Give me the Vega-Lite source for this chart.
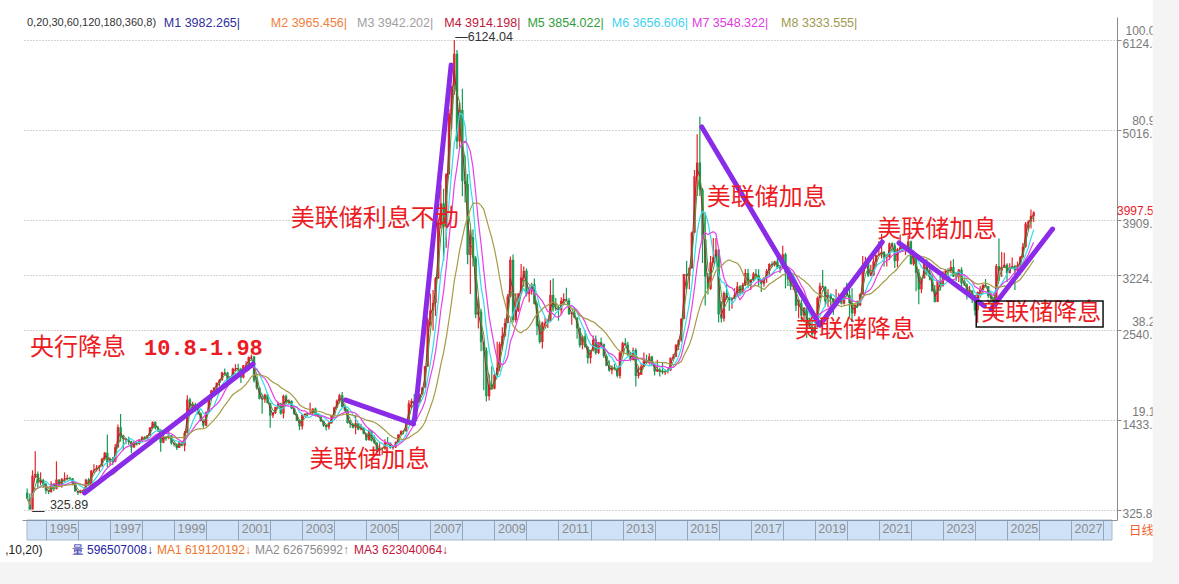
{
"$schema":"https://vega.github.io/schema/vega-lite/v6.json",
"width":1095,"height":503,
"autosize":{"type":"none"},
"padding":{"left":22,"top":17,"right":62,"bottom":64},
"background":"white",
"config":{"view":{"stroke":null},"text":{"font":"Liberation Sans"}},
"datasets":{
"k":[
{"d":"1994-06","o":540,"h":590,"l":463,"c":467},{"d":"1994-07","o":467,"h":530,"l":326,"c":333},{"d":"1994-08","o":333,"h":815,"l":330,"c":750},{"d":"1994-09","o":750,"h":1052,"l":720,"c":772},{"d":"1994-10","o":772,"h":800,"l":600,"c":662},{"d":"1994-11","o":662,"h":790,"l":630,"c":693},{"d":"1994-12","o":693,"h":710,"l":600,"c":647},
{"d":"1995-01","o":647,"h":660,"l":525,"c":563},{"d":"1995-02","o":563,"h":570,"l":524,"c":550},{"d":"1995-03","o":550,"h":680,"l":540,"c":646},{"d":"1995-04","o":646,"h":650,"l":560,"c":587},{"d":"1995-05","o":587,"h":926,"l":580,"c":701},{"d":"1995-06","o":701,"h":705,"l":610,"c":630},{"d":"1995-07","o":630,"h":720,"l":600,"c":706},{"d":"1995-08","o":706,"h":790,"l":680,"c":712},{"d":"1995-09","o":712,"h":760,"l":690,"c":717},{"d":"1995-10","o":717,"h":735,"l":700,"c":716},{"d":"1995-11","o":716,"h":720,"l":630,"c":649},{"d":"1995-12","o":649,"h":660,"l":555,"c":555},
{"d":"1996-01","o":555,"h":560,"l":512,"c":537},{"d":"1996-02","o":537,"h":575,"l":530,"c":565},{"d":"1996-03","o":565,"h":580,"l":545,"c":565},{"d":"1996-04","o":565,"h":710,"l":560,"c":700},{"d":"1996-05","o":700,"h":720,"l":630,"c":645},{"d":"1996-06","o":645,"h":820,"l":640,"c":811},{"d":"1996-07","o":811,"h":890,"l":780,"c":822},{"d":"1996-08","o":822,"h":880,"l":800,"c":848},{"d":"1996-09","o":848,"h":880,"l":800,"c":868},{"d":"1996-10","o":868,"h":970,"l":860,"c":957},{"d":"1996-11","o":957,"h":1040,"l":940,"c":1032},{"d":"1996-12","o":1032,"h":1258,"l":855,"c":917},
{"d":"1997-01","o":917,"h":970,"l":870,"c":956},{"d":"1997-02","o":956,"h":980,"l":880,"c":920},{"d":"1997-03","o":920,"h":1140,"l":915,"c":1100},{"d":"1997-04","o":1100,"h":1380,"l":1095,"c":1347},{"d":"1997-05","o":1347,"h":1510,"l":1170,"c":1212},{"d":"1997-06","o":1212,"h":1250,"l":1060,"c":1199},{"d":"1997-07","o":1199,"h":1210,"l":1140,"c":1201},{"d":"1997-08","o":1201,"h":1230,"l":1130,"c":1168},{"d":"1997-09","o":1168,"h":1180,"l":1025,"c":1098},{"d":"1997-10","o":1098,"h":1180,"l":1090,"c":1160},{"d":"1997-11","o":1160,"h":1170,"l":1120,"c":1142},{"d":"1997-12","o":1142,"h":1200,"l":1130,"c":1194},
{"d":"1998-01","o":1194,"h":1240,"l":1170,"c":1222},{"d":"1998-02","o":1222,"h":1240,"l":1190,"c":1207},{"d":"1998-03","o":1207,"h":1250,"l":1200,"c":1243},{"d":"1998-04","o":1243,"h":1350,"l":1240,"c":1342},{"d":"1998-05","o":1342,"h":1420,"l":1330,"c":1411},{"d":"1998-06","o":1411,"h":1420,"l":1320,"c":1339},{"d":"1998-07","o":1339,"h":1360,"l":1290,"c":1318},{"d":"1998-08","o":1318,"h":1320,"l":1043,"c":1156},{"d":"1998-09","o":1156,"h":1260,"l":1150,"c":1227},{"d":"1998-10","o":1227,"h":1240,"l":1180,"c":1217},{"d":"1998-11","o":1217,"h":1300,"l":1200,"c":1248},{"d":"1998-12","o":1248,"h":1250,"l":1130,"c":1147},
{"d":"1999-01","o":1147,"h":1160,"l":1110,"c":1135},{"d":"1999-02","o":1135,"h":1150,"l":1065,"c":1091},{"d":"1999-03","o":1091,"h":1170,"l":1090,"c":1158},{"d":"1999-04","o":1158,"h":1180,"l":1110,"c":1120},{"d":"1999-05","o":1120,"h":1300,"l":1050,"c":1279},{"d":"1999-06","o":1279,"h":1740,"l":1270,"c":1689},{"d":"1999-07","o":1689,"h":1710,"l":1560,"c":1601},{"d":"1999-08","o":1601,"h":1660,"l":1560,"c":1627},{"d":"1999-09","o":1627,"h":1650,"l":1540,"c":1593},{"d":"1999-10","o":1593,"h":1600,"l":1500,"c":1514},{"d":"1999-11","o":1514,"h":1530,"l":1420,"c":1423},{"d":"1999-12","o":1423,"h":1430,"l":1341,"c":1367},
{"d":"2000-01","o":1367,"h":1540,"l":1360,"c":1534},{"d":"2000-02","o":1534,"h":1730,"l":1530,"c":1714},{"d":"2000-03","o":1714,"h":1810,"l":1680,"c":1800},{"d":"2000-04","o":1800,"h":1840,"l":1760,"c":1836},{"d":"2000-05","o":1836,"h":1900,"l":1800,"c":1895},{"d":"2000-06","o":1895,"h":1940,"l":1850,"c":1928},{"d":"2000-07","o":1928,"h":2030,"l":1920,"c":2023},{"d":"2000-08","o":2023,"h":2070,"l":1990,"c":2022},{"d":"2000-09","o":2022,"h":2030,"l":1890,"c":1910},{"d":"2000-10","o":1910,"h":1970,"l":1900,"c":1961},{"d":"2000-11","o":1961,"h":2080,"l":1960,"c":2070},{"d":"2000-12","o":2070,"h":2125,"l":2040,"c":2073},
{"d":"2001-01","o":2073,"h":2130,"l":2020,"c":2065},{"d":"2001-02","o":2065,"h":2080,"l":1894,"c":1960},{"d":"2001-03","o":1960,"h":2115,"l":1950,"c":2112},{"d":"2001-04","o":2112,"h":2160,"l":2080,"c":2119},{"d":"2001-05","o":2119,"h":2220,"l":2110,"c":2214},{"d":"2001-06","o":2214,"h":2245,"l":2180,"c":2218},{"d":"2001-07","o":2218,"h":2230,"l":1900,"c":1920},{"d":"2001-08","o":1920,"h":1970,"l":1810,"c":1834},{"d":"2001-09","o":1834,"h":1840,"l":1690,"c":1698},{"d":"2001-10","o":1698,"h":1760,"l":1514,"c":1689},{"d":"2001-11","o":1689,"h":1760,"l":1650,"c":1747},{"d":"2001-12","o":1747,"h":1770,"l":1640,"c":1646},
{"d":"2002-01","o":1646,"h":1650,"l":1339,"c":1491},{"d":"2002-02","o":1491,"h":1530,"l":1460,"c":1525},{"d":"2002-03","o":1525,"h":1600,"l":1510,"c":1594},{"d":"2002-04","o":1594,"h":1660,"l":1580,"c":1640},{"d":"2002-05","o":1640,"h":1650,"l":1500,"c":1515},{"d":"2002-06","o":1515,"h":1748,"l":1455,"c":1733},{"d":"2002-07","o":1733,"h":1750,"l":1640,"c":1653},{"d":"2002-08","o":1653,"h":1690,"l":1620,"c":1672},{"d":"2002-09","o":1672,"h":1680,"l":1570,"c":1581},{"d":"2002-10","o":1581,"h":1590,"l":1500,"c":1507},{"d":"2002-11","o":1507,"h":1510,"l":1420,"c":1430},{"d":"2002-12","o":1430,"h":1440,"l":1311,"c":1358},
{"d":"2003-01","o":1358,"h":1510,"l":1320,"c":1499},{"d":"2003-02","o":1499,"h":1520,"l":1480,"c":1513},{"d":"2003-03","o":1513,"h":1530,"l":1480,"c":1510},{"d":"2003-04","o":1510,"h":1650,"l":1500,"c":1521},{"d":"2003-05","o":1521,"h":1580,"l":1500,"c":1576},{"d":"2003-06","o":1576,"h":1590,"l":1480,"c":1487},{"d":"2003-07","o":1487,"h":1520,"l":1470,"c":1476},{"d":"2003-08","o":1476,"h":1490,"l":1410,"c":1421},{"d":"2003-09","o":1421,"h":1430,"l":1350,"c":1367},{"d":"2003-10","o":1367,"h":1380,"l":1307,"c":1348},{"d":"2003-11","o":1348,"h":1410,"l":1320,"c":1398},{"d":"2003-12","o":1398,"h":1500,"l":1390,"c":1497},
{"d":"2004-01","o":1497,"h":1600,"l":1490,"c":1590},{"d":"2004-02","o":1590,"h":1690,"l":1580,"c":1675},{"d":"2004-03","o":1675,"h":1760,"l":1640,"c":1742},{"d":"2004-04","o":1742,"h":1783,"l":1590,"c":1595},{"d":"2004-05","o":1595,"h":1620,"l":1540,"c":1555},{"d":"2004-06","o":1555,"h":1570,"l":1390,"c":1399},{"d":"2004-07","o":1399,"h":1430,"l":1340,"c":1386},{"d":"2004-08","o":1386,"h":1400,"l":1330,"c":1342},{"d":"2004-09","o":1342,"h":1500,"l":1260,"c":1396},{"d":"2004-10","o":1396,"h":1400,"l":1310,"c":1320},{"d":"2004-11","o":1320,"h":1390,"l":1310,"c":1341},{"d":"2004-12","o":1341,"h":1350,"l":1259,"c":1267},
{"d":"2005-01","o":1267,"h":1270,"l":1180,"c":1191},{"d":"2005-02","o":1191,"h":1330,"l":1180,"c":1306},{"d":"2005-03","o":1306,"h":1310,"l":1170,"c":1181},{"d":"2005-04","o":1181,"h":1250,"l":1140,"c":1159},{"d":"2005-05","o":1159,"h":1160,"l":1040,"c":1060},{"d":"2005-06","o":1060,"h":1150,"l":998,"c":1080},{"d":"2005-07","o":1080,"h":1100,"l":1004,"c":1083},{"d":"2005-08","o":1083,"h":1200,"l":1070,"c":1162},{"d":"2005-09","o":1162,"h":1225,"l":1150,"c":1155},{"d":"2005-10","o":1155,"h":1160,"l":1080,"c":1092},{"d":"2005-11","o":1092,"h":1110,"l":1070,"c":1099},{"d":"2005-12","o":1099,"h":1170,"l":1090,"c":1161},
{"d":"2006-01","o":1161,"h":1260,"l":1160,"c":1258},{"d":"2006-02","o":1258,"h":1310,"l":1250,"c":1299},{"d":"2006-03","o":1299,"h":1310,"l":1260,"c":1298},{"d":"2006-04","o":1298,"h":1445,"l":1290,"c":1440},{"d":"2006-05","o":1440,"h":1680,"l":1440,"c":1641},{"d":"2006-06","o":1641,"h":1700,"l":1580,"c":1672},{"d":"2006-07","o":1672,"h":1757,"l":1600,"c":1612},{"d":"2006-08","o":1612,"h":1660,"l":1540,"c":1658},{"d":"2006-09","o":1658,"h":1760,"l":1650,"c":1752},{"d":"2006-10","o":1752,"h":1840,"l":1750,"c":1837},{"d":"2006-11","o":1837,"h":2100,"l":1830,"c":2099},{"d":"2006-12","o":2099,"h":2700,"l":2090,"c":2675},
{"d":"2007-01","o":2675,"h":2994,"l":2600,"c":2786},{"d":"2007-02","o":2786,"h":3040,"l":2540,"c":2881},{"d":"2007-03","o":2881,"h":3200,"l":2720,"c":3183},{"d":"2007-04","o":3183,"h":3850,"l":3180,"c":3841},{"d":"2007-05","o":3841,"h":4335,"l":3800,"c":4109},{"d":"2007-06","o":4109,"h":4290,"l":3400,"c":3820},{"d":"2007-07","o":3820,"h":4480,"l":3560,"c":4471},{"d":"2007-08","o":4471,"h":5270,"l":4460,"c":5218},{"d":"2007-09","o":5218,"h":5560,"l":5030,"c":5552},{"d":"2007-10","o":5552,"h":6124,"l":5450,"c":5954},{"d":"2007-11","o":5954,"h":6000,"l":4780,"c":4871},{"d":"2007-12","o":4871,"h":5350,"l":4800,"c":5262},
{"d":"2008-01","o":5262,"h":5522,"l":4195,"c":4383},{"d":"2008-02","o":4383,"h":4695,"l":4120,"c":4348},{"d":"2008-03","o":4348,"h":4470,"l":3357,"c":3473},{"d":"2008-04","o":3473,"h":3786,"l":2990,"c":3693},{"d":"2008-05","o":3693,"h":3786,"l":3330,"c":3433},{"d":"2008-06","o":3433,"h":3460,"l":2690,"c":2736},{"d":"2008-07","o":2736,"h":2950,"l":2566,"c":2775},{"d":"2008-08","o":2775,"h":2810,"l":2284,"c":2397},{"d":"2008-09","o":2397,"h":2400,"l":1802,"c":2293},{"d":"2008-10","o":2293,"h":2330,"l":1664,"c":1729},{"d":"2008-11","o":1729,"h":2000,"l":1678,"c":1871},{"d":"2008-12","o":1871,"h":2100,"l":1814,"c":1821},
{"d":"2009-01","o":1821,"h":2010,"l":1815,"c":1991},{"d":"2009-02","o":1991,"h":2402,"l":1990,"c":2082},{"d":"2009-03","o":2082,"h":2400,"l":2037,"c":2373},{"d":"2009-04","o":2373,"h":2580,"l":2300,"c":2477},{"d":"2009-05","o":2477,"h":2690,"l":2460,"c":2633},{"d":"2009-06","o":2633,"h":2990,"l":2630,"c":2959},{"d":"2009-07","o":2959,"h":3454,"l":2950,"c":3412},{"d":"2009-08","o":3412,"h":3478,"l":2640,"c":2668},{"d":"2009-09","o":2668,"h":3000,"l":2639,"c":2779},{"d":"2009-10","o":2779,"h":3000,"l":2770,"c":2996},{"d":"2009-11","o":2996,"h":3361,"l":2990,"c":3195},{"d":"2009-12","o":3195,"h":3330,"l":3080,"c":3277},
{"d":"2010-01","o":3277,"h":3306,"l":2960,"c":2989},{"d":"2010-02","o":2989,"h":3080,"l":2890,"c":3051},{"d":"2010-03","o":3051,"h":3130,"l":2980,"c":3110},{"d":"2010-04","o":3110,"h":3181,"l":2860,"c":2870},{"d":"2010-05","o":2870,"h":2890,"l":2481,"c":2592},{"d":"2010-06","o":2592,"h":2660,"l":2380,"c":2398},{"d":"2010-07","o":2398,"h":2650,"l":2319,"c":2638},{"d":"2010-08","o":2638,"h":2700,"l":2570,"c":2638},{"d":"2010-09","o":2638,"h":2680,"l":2570,"c":2656},{"d":"2010-10","o":2656,"h":3160,"l":2650,"c":2979},{"d":"2010-11","o":2979,"h":3186,"l":2770,"c":2820},{"d":"2010-12","o":2820,"h":2940,"l":2780,"c":2808},
{"d":"2011-01","o":2808,"h":2850,"l":2661,"c":2791},{"d":"2011-02","o":2791,"h":2950,"l":2730,"c":2905},{"d":"2011-03","o":2905,"h":3000,"l":2850,"c":2928},{"d":"2011-04","o":2928,"h":3067,"l":2900,"c":2912},{"d":"2011-05","o":2912,"h":2940,"l":2730,"c":2743},{"d":"2011-06","o":2743,"h":2770,"l":2610,"c":2762},{"d":"2011-07","o":2762,"h":2830,"l":2690,"c":2701},{"d":"2011-08","o":2701,"h":2700,"l":2437,"c":2567},{"d":"2011-09","o":2567,"h":2570,"l":2332,"c":2359},{"d":"2011-10","o":2359,"h":2480,"l":2307,"c":2468},{"d":"2011-11","o":2468,"h":2536,"l":2330,"c":2333},{"d":"2011-12","o":2333,"h":2350,"l":2134,"c":2199},
{"d":"2012-01","o":2199,"h":2300,"l":2132,"c":2292},{"d":"2012-02","o":2292,"h":2478,"l":2280,"c":2428},{"d":"2012-03","o":2428,"h":2478,"l":2240,"c":2263},{"d":"2012-04","o":2263,"h":2400,"l":2250,"c":2397},{"d":"2012-05","o":2397,"h":2454,"l":2330,"c":2373},{"d":"2012-06","o":2373,"h":2380,"l":2200,"c":2225},{"d":"2012-07","o":2225,"h":2240,"l":2100,"c":2103},{"d":"2012-08","o":2103,"h":2170,"l":2030,"c":2047},{"d":"2012-09","o":2047,"h":2110,"l":1999,"c":2086},{"d":"2012-10","o":2086,"h":2130,"l":2050,"c":2069},{"d":"2012-11","o":2069,"h":2080,"l":1959,"c":1980},{"d":"2012-12","o":1980,"h":2280,"l":1949,"c":2269},
{"d":"2013-01","o":2269,"h":2400,"l":2260,"c":2385},{"d":"2013-02","o":2385,"h":2444,"l":2360,"c":2365},{"d":"2013-03","o":2365,"h":2400,"l":2230,"c":2237},{"d":"2013-04","o":2237,"h":2270,"l":2160,"c":2178},{"d":"2013-05","o":2178,"h":2330,"l":2170,"c":2301},{"d":"2013-06","o":2301,"h":2320,"l":1849,"c":1979},{"d":"2013-07","o":1979,"h":2100,"l":1950,"c":1994},{"d":"2013-08","o":1994,"h":2140,"l":1990,"c":2098},{"d":"2013-09","o":2098,"h":2270,"l":2090,"c":2175},{"d":"2013-10","o":2175,"h":2240,"l":2130,"c":2141},{"d":"2013-11","o":2141,"h":2260,"l":2120,"c":2220},{"d":"2013-12","o":2220,"h":2230,"l":2100,"c":2116},
{"d":"2014-01","o":2116,"h":2120,"l":1985,"c":2033},{"d":"2014-02","o":2033,"h":2180,"l":2030,"c":2056},{"d":"2014-03","o":2056,"h":2080,"l":1974,"c":2033},{"d":"2014-04","o":2033,"h":2150,"l":2000,"c":2026},{"d":"2014-05","o":2026,"h":2060,"l":1990,"c":2039},{"d":"2014-06","o":2039,"h":2070,"l":2010,"c":2048},{"d":"2014-07","o":2048,"h":2210,"l":2040,"c":2202},{"d":"2014-08","o":2202,"h":2250,"l":2190,"c":2217},{"d":"2014-09","o":2217,"h":2370,"l":2210,"c":2364},{"d":"2014-10","o":2364,"h":2430,"l":2300,"c":2420},{"d":"2014-11","o":2420,"h":2690,"l":2400,"c":2683},{"d":"2014-12","o":2683,"h":3240,"l":2680,"c":3235},
{"d":"2015-01","o":3235,"h":3400,"l":3050,"c":3210},{"d":"2015-02","o":3210,"h":3320,"l":3050,"c":3310},{"d":"2015-03","o":3310,"h":3760,"l":3300,"c":3748},{"d":"2015-04","o":3748,"h":4520,"l":3740,"c":4442},{"d":"2015-05","o":4442,"h":4960,"l":4200,"c":4612},{"d":"2015-06","o":4612,"h":5178,"l":4200,"c":4277},{"d":"2015-07","o":4277,"h":4300,"l":3373,"c":3664},{"d":"2015-08","o":3664,"h":4000,"l":2850,"c":3206},{"d":"2015-09","o":3206,"h":3250,"l":2983,"c":3053},{"d":"2015-10","o":3053,"h":3460,"l":3040,"c":3383},{"d":"2015-11","o":3383,"h":3680,"l":3370,"c":3445},{"d":"2015-12","o":3445,"h":3680,"l":3400,"c":3539},
{"d":"2016-01","o":3539,"h":3540,"l":2638,"c":2738},{"d":"2016-02","o":2738,"h":2900,"l":2638,"c":2688},{"d":"2016-03","o":2688,"h":3020,"l":2650,"c":3004},{"d":"2016-04","o":3004,"h":3100,"l":2920,"c":2938},{"d":"2016-05","o":2938,"h":2950,"l":2780,"c":2917},{"d":"2016-06","o":2917,"h":2950,"l":2810,"c":2930},{"d":"2016-07","o":2930,"h":3060,"l":2930,"c":2979},{"d":"2016-08","o":2979,"h":3140,"l":2960,"c":3085},{"d":"2016-09","o":3085,"h":3100,"l":2970,"c":3005},{"d":"2016-10","o":3005,"h":3130,"l":3000,"c":3100},{"d":"2016-11","o":3100,"h":3300,"l":3090,"c":3250},{"d":"2016-12","o":3250,"h":3301,"l":3060,"c":3104},
{"d":"2017-01","o":3104,"h":3170,"l":3040,"c":3159},{"d":"2017-02","o":3159,"h":3260,"l":3150,"c":3242},{"d":"2017-03","o":3242,"h":3300,"l":3180,"c":3223},{"d":"2017-04","o":3223,"h":3295,"l":3090,"c":3155},{"d":"2017-05","o":3155,"h":3170,"l":3016,"c":3117},{"d":"2017-06","o":3117,"h":3200,"l":3080,"c":3192},{"d":"2017-07","o":3192,"h":3300,"l":3130,"c":3273},{"d":"2017-08","o":3273,"h":3370,"l":3200,"c":3361},{"d":"2017-09","o":3361,"h":3390,"l":3320,"c":3349},{"d":"2017-10","o":3349,"h":3400,"l":3330,"c":3393},{"d":"2017-11","o":3393,"h":3450,"l":3300,"c":3317},{"d":"2017-12","o":3317,"h":3330,"l":3250,"c":3307},
{"d":"2018-01","o":3307,"h":3587,"l":3300,"c":3481},{"d":"2018-02","o":3481,"h":3500,"l":3060,"c":3259},{"d":"2018-03","o":3259,"h":3330,"l":3090,"c":3169},{"d":"2018-04","o":3169,"h":3220,"l":3040,"c":3082},{"d":"2018-05","o":3082,"h":3220,"l":3040,"c":3095},{"d":"2018-06","o":3095,"h":3130,"l":2780,"c":2847},{"d":"2018-07","o":2847,"h":2920,"l":2690,"c":2876},{"d":"2018-08","o":2876,"h":2920,"l":2650,"c":2725},{"d":"2018-09","o":2725,"h":2830,"l":2640,"c":2821},{"d":"2018-10","o":2821,"h":2830,"l":2449,"c":2603},{"d":"2018-11","o":2603,"h":2700,"l":2570,"c":2588},{"d":"2018-12","o":2588,"h":2670,"l":2460,"c":2494},
{"d":"2019-01","o":2494,"h":2600,"l":2440,"c":2585},{"d":"2019-02","o":2585,"h":2960,"l":2580,"c":2941},{"d":"2019-03","o":2941,"h":3130,"l":2940,"c":3091},{"d":"2019-04","o":3091,"h":3288,"l":3070,"c":3078},{"d":"2019-05","o":3078,"h":3090,"l":2840,"c":2899},{"d":"2019-06","o":2899,"h":3050,"l":2830,"c":2979},{"d":"2019-07","o":2979,"h":3000,"l":2840,"c":2933},{"d":"2019-08","o":2933,"h":2940,"l":2733,"c":2886},{"d":"2019-09","o":2886,"h":3050,"l":2880,"c":2905},{"d":"2019-10","o":2905,"h":3000,"l":2880,"c":2929},{"d":"2019-11","o":2929,"h":2980,"l":2860,"c":2872},{"d":"2019-12","o":2872,"h":3070,"l":2860,"c":3050},
{"d":"2020-01","o":3050,"h":3130,"l":2960,"c":2977},{"d":"2020-02","o":2977,"h":3060,"l":2685,"c":2880},{"d":"2020-03","o":2880,"h":3060,"l":2646,"c":2750},{"d":"2020-04","o":2750,"h":2860,"l":2720,"c":2860},{"d":"2020-05","o":2860,"h":2910,"l":2820,"c":2852},{"d":"2020-06","o":2852,"h":3000,"l":2840,"c":2985},{"d":"2020-07","o":2985,"h":3458,"l":2980,"c":3310},{"d":"2020-08","o":3310,"h":3450,"l":3300,"c":3396},{"d":"2020-09","o":3396,"h":3420,"l":3200,"c":3218},{"d":"2020-10","o":3218,"h":3350,"l":3210,"c":3225},{"d":"2020-11","o":3225,"h":3440,"l":3210,"c":3392},{"d":"2020-12","o":3392,"h":3470,"l":3320,"c":3473},
{"d":"2021-01","o":3473,"h":3640,"l":3460,"c":3483},{"d":"2021-02","o":3483,"h":3732,"l":3430,"c":3509},{"d":"2021-03","o":3509,"h":3520,"l":3330,"c":3442},{"d":"2021-04","o":3442,"h":3480,"l":3330,"c":3447},{"d":"2021-05","o":3447,"h":3625,"l":3410,"c":3615},{"d":"2021-06","o":3615,"h":3630,"l":3520,"c":3591},{"d":"2021-07","o":3591,"h":3620,"l":3310,"c":3397},{"d":"2021-08","o":3397,"h":3560,"l":3320,"c":3544},{"d":"2021-09","o":3544,"h":3723,"l":3540,"c":3568},{"d":"2021-10","o":3568,"h":3590,"l":3510,"c":3547},{"d":"2021-11","o":3547,"h":3600,"l":3470,"c":3564},{"d":"2021-12","o":3564,"h":3708,"l":3560,"c":3640},
{"d":"2022-01","o":3640,"h":3650,"l":3350,"c":3361},{"d":"2022-02","o":3361,"h":3490,"l":3340,"c":3463},{"d":"2022-03","o":3463,"h":3470,"l":3023,"c":3252},{"d":"2022-04","o":3252,"h":3300,"l":2863,"c":3047},{"d":"2022-05","o":3047,"h":3190,"l":3000,"c":3186},{"d":"2022-06","o":3186,"h":3420,"l":3180,"c":3399},{"d":"2022-07","o":3399,"h":3420,"l":3220,"c":3253},{"d":"2022-08","o":3253,"h":3310,"l":3160,"c":3202},{"d":"2022-09","o":3202,"h":3240,"l":3020,"c":3024},{"d":"2022-10","o":3024,"h":3100,"l":2885,"c":2893},{"d":"2022-11","o":2893,"h":3160,"l":2890,"c":3151},{"d":"2022-12","o":3151,"h":3230,"l":3030,"c":3089},
{"d":"2023-01","o":3089,"h":3270,"l":3080,"c":3255},{"d":"2023-02","o":3255,"h":3300,"l":3210,"c":3280},{"d":"2023-03","o":3280,"h":3310,"l":3190,"c":3273},{"d":"2023-04","o":3273,"h":3400,"l":3250,"c":3323},{"d":"2023-05","o":3323,"h":3420,"l":3200,"c":3205},{"d":"2023-06","o":3205,"h":3250,"l":3150,"c":3202},{"d":"2023-07","o":3202,"h":3300,"l":3140,"c":3291},{"d":"2023-08","o":3291,"h":3320,"l":3050,"c":3120},{"d":"2023-09","o":3120,"h":3160,"l":3090,"c":3110},{"d":"2023-10","o":3110,"h":3120,"l":2924,"c":3018},{"d":"2023-11","o":3018,"h":3090,"l":2990,"c":3030},{"d":"2023-12","o":3030,"h":3040,"l":2880,"c":2975},
{"d":"2024-01","o":2975,"h":2980,"l":2724,"c":2789},{"d":"2024-02","o":2789,"h":3020,"l":2635,"c":3015},{"d":"2024-03","o":3015,"h":3090,"l":2990,"c":3041},{"d":"2024-04","o":3041,"h":3110,"l":2990,"c":3105},{"d":"2024-05","o":3105,"h":3175,"l":3080,"c":3087},{"d":"2024-06","o":3087,"h":3090,"l":2940,"c":2967},{"d":"2024-07","o":2967,"h":3000,"l":2860,"c":2939},{"d":"2024-08","o":2939,"h":2950,"l":2810,"c":2842},{"d":"2024-09","o":2842,"h":3360,"l":2690,"c":3336},{"d":"2024-10","o":3336,"h":3674,"l":3150,"c":3279},{"d":"2024-11","o":3279,"h":3510,"l":3200,"c":3326},{"d":"2024-12","o":3326,"h":3500,"l":3310,"c":3352},
{"d":"2025-01","o":3352,"h":3370,"l":3140,"c":3250},{"d":"2025-02","o":3250,"h":3370,"l":3240,"c":3320},{"d":"2025-03","o":3320,"h":3440,"l":3310,"c":3336},{"d":"2025-04","o":3336,"h":3350,"l":3040,"c":3279},{"d":"2025-05","o":3279,"h":3390,"l":3260,"c":3347},{"d":"2025-06","o":3347,"h":3460,"l":3340,"c":3444},{"d":"2025-07","o":3444,"h":3620,"l":3440,"c":3573},{"d":"2025-08","o":3573,"h":3880,"l":3560,"c":3858},{"d":"2025-09","o":3858,"h":3900,"l":3770,"c":3883},{"d":"2025-10","o":3883,"h":4034,"l":3800,"c":3955},{"d":"2025-11","o":3955,"h":4010,"l":3880,"c":3997}
],
"seg":[
{"d1":"1996-03-16","v1":536,"d2":"2001-06-19","v2":2127},
{"d1":"2004-05-05","v1":1683,"d2":"2006-06-23","v2":1387},
{"d1":"2006-07-04","v1":1436,"d2":"2007-08-26","v2":5816},
{"d1":"2015-06-23","v1":5051,"d2":"2019-02-27","v2":2608},
{"d1":"2019-02-27","v1":2608,"d2":"2021-02-08","v2":3632},
{"d1":"2021-08-19","v1":3620,"d2":"2024-04-17","v2":2843},
{"d1":"2024-07-04","v1":2806,"d2":"2026-06-04","v2":3792}
],
"ann":[
{"d":"1994-07-03","v":2324,"t":"央行降息"},
{"d":"2003-03-25","v":943,"t":"美联储加息"},
{"d":"2002-08-22","v":3916,"t":"美联储利息不动"},
{"d":"2015-08-18","v":4175,"t":"美联储加息"},
{"d":"2020-12-13","v":3780,"t":"美联储加息"},
{"d":"2018-05-20","v":2546,"t":"美联储降息"},
{"d":"2024-03-14","v":2756,"t":"美联储降息"}
],
"top":[
{"d":"1998-09-06","t":"M1 3982.265|","k":"m1"},
{"d":"2002-01-08","t":"M2 3965.456|","k":"m2"},
{"d":"2004-09-17","t":"M3 3942.202|","k":"m3"},
{"d":"2007-06-08","t":"M4 3914.198|","k":"m4"},
{"d":"2010-01-12","t":"M5 3854.022|","k":"m5"},
{"d":"2012-08-30","t":"M6 3656.606|","k":"m6"},
{"d":"2015-03-03","t":"M7 3548.322|","k":"m7"},
{"d":"2017-12-13","t":"M8 3333.555|","k":"m8"}
],
"bot":[
{"d":"1993-09-24","t":",10,20)","k":"b0"},
{"d":"1995-10-21","t":"量 596507008↓","k":"vol"},
{"d":"1998-06-19","t":"MA1 619120192↓","k":"a1"},
{"d":"2001-07-11","t":"MA2 626756992↑","k":"a2"},
{"d":"2004-08-14","t":"MA3 623040064↓","k":"a3"}
]
},
"layer":[
{"data":{"values":[{}]},"mark":{"type":"rect","fill":"#cfe1f6","stroke":"#a7b9cc","strokeWidth":1},
 "encoding":{"x":{"datum":{"year":1994,"month":5,"date":30},"type":"temporal","scale":{"domain":[{"year":1994,"month":5,"date":30},{"year":2028,"month":4,"date":12}]},"axis":null},
 "x2":{"datum":{"year":2028,"month":4,"date":12}},
 "y":{"datum":202.4,"type":"quantitative","scale":{"domain":[202.4,6407.7],"zero":false,"nice":false},"axis":null},
 "y2":{"datum":-44.3}}},
{"data":{"name":"k"},
 "transform":[
  {"window":[{"op":"mean","field":"c","as":"m2"}],"frame":[-1,0],"sort":[{"field":"d"}]},
  {"window":[{"op":"mean","field":"c","as":"m3"}],"frame":[-2,0],"sort":[{"field":"d"}]},
  {"window":[{"op":"mean","field":"c","as":"m6"}],"frame":[-5,0],"sort":[{"field":"d"}]},
  {"window":[{"op":"mean","field":"c","as":"m9"}],"frame":[-8,0],"sort":[{"field":"d"}]},
  {"window":[{"op":"mean","field":"c","as":"m18"}],"frame":[-17,0],"sort":[{"field":"d"}]}
 ],
 "layer":[
  {"mark":{"type":"rule","strokeWidth":1.2},
   "encoding":{
    "x":{"field":"d","type":"temporal","scale":{"domain":[{"year":1994,"month":5,"date":30},{"year":2028,"month":4,"date":12}]},
     "axis":{"orient":"bottom","title":null,"grid":false,"tickCount":{"interval":"year","step":1},"labelExpr":"year(datum.value) % 2 == 1 ? timeFormat(datum.value, '%Y') : ''","labelAlign":"left","labelOffset":3,"labelPadding":-18,"labelBaseline":"top","tickSize":20,"tickColor":"#93a6ba","domainColor":"#8797a8","labelColor":"#8c8c8c","labelFontSize":12.5,"labelFont":"Liberation Sans","labelOverlap":false,"labelBound":false,"labelFlush":false,"zindex":1}},
    "y":{"field":"l","type":"quantitative","scale":{"domain":[202.4,6407.7],"zero":false,"nice":false},
     "axis":{"orient":"right","title":null,"values":[325.8,1433.3,2540.7,3224.9,3909.1,5016.5,6124.0],"format":".1f","grid":true,"gridColor":"#a9a9a9","gridDash":[1,2],"domainColor":"#8a8a8a","tickColor":"#8a8a8a","tickSize":4,"labelColor":"#7a7a7a","labelFontSize":12,"labelFont":"Liberation Sans","labelBaseline":"top","labelAlign":"left","labelPadding":1,"labelOffset":-1,"zindex":0}},
    "y2":{"field":"h"},
    "color":{"condition":{"test":"datum.c >= datum.o","value":"#e3262b"},"value":"#159a52"}}},
  {"mark":{"type":"bar","size":2.4},
   "encoding":{
    "x":{"field":"d","type":"temporal","axis":null},
    "y":{"field":"o","type":"quantitative",
     "axis":{"orient":"right","title":null,"values":[1433.3,2540.7,5016.5,6124.0],"labelExpr":"datum.value > 6000 ? '100.0' : datum.value > 5000 ? '80.9' : datum.value > 2000 ? '38.2' : '19.1'","grid":false,"ticks":false,"domain":false,"labelColor":"#7a7a7a","labelFontSize":12,"labelFont":"Liberation Sans","labelBaseline":"bottom","labelAlign":"right","labelPadding":38,"labelOffset":-2,"zindex":0}},
    "y2":{"field":"c"},
    "color":{"condition":{"test":"datum.c >= datum.o","value":"#e3262b"},"value":"#159a52"}}},
  {"mark":{"type":"line","color":"#a8242e","strokeWidth":1},"encoding":{"x":{"field":"d","type":"temporal","axis":null},"y":{"field":"m2","type":"quantitative","axis":null}}},
  {"mark":{"type":"line","color":"#2fa43a","strokeWidth":1},"encoding":{"x":{"field":"d","type":"temporal","axis":null},"y":{"field":"m3","type":"quantitative","axis":null}}},
  {"mark":{"type":"line","color":"#33d9ee","strokeWidth":1.2},"encoding":{"x":{"field":"d","type":"temporal","axis":null},"y":{"field":"m6","type":"quantitative","axis":null}}},
  {"mark":{"type":"line","color":"#ea3fe6","strokeWidth":1.2},"encoding":{"x":{"field":"d","type":"temporal","axis":null},"y":{"field":"m9","type":"quantitative","axis":null}}},
  {"mark":{"type":"line","color":"#a49b45","strokeWidth":1.2},"encoding":{"x":{"field":"d","type":"temporal","axis":null},"y":{"field":"m18","type":"quantitative","axis":null}}}
 ],
 "resolve":{"axis":{"x":"independent","y":"independent"}}
},
{"data":{"name":"seg"},"mark":{"type":"rule","color":"#8a2be8","strokeWidth":5,"strokeCap":"round"},
 "encoding":{"x":{"field":"d1","type":"temporal","axis":null},"x2":{"field":"d2"},"y":{"field":"v1","type":"quantitative","axis":null},"y2":{"field":"v2"}}},
{"data":{"name":"ann"},"mark":{"type":"text","align":"left","baseline":"middle","font":"Noto Sans CJK SC","fontSize":24,"color":"#ec1c24"},
 "encoding":{"x":{"field":"d","type":"temporal","axis":null},"y":{"field":"v","type":"quantitative","axis":null},"text":{"field":"t"}}},
{"data":{"values":[{"d":"1998-01-23","v":2324,"t":"10.8-1.98"}]},"mark":{"type":"text","align":"left","baseline":"middle","font":"Liberation Mono","fontWeight":"bold","fontSize":22,"color":"#ec1c24"},
 "encoding":{"x":{"field":"d","type":"temporal","axis":null},"y":{"field":"v","type":"quantitative","axis":null},"text":{"field":"t"}}},
{"data":{"values":[{}]},"mark":{"type":"rect","fill":null,"stroke":"#111111","strokeWidth":1.5},
 "encoding":{"x":{"datum":{"year":2024,"month":1,"date":16},"type":"temporal","axis":null},"x2":{"datum":{"year":2028,"month":1,"date":1}},"y":{"datum":2904,"type":"quantitative","axis":null},"y2":{"datum":2583}}},
{"data":{"values":[{"d":"2007-10-11","v":6161,"t":"—6124.04"},{"d":"1995-02-15","v":388,"t":"325.89"},{"d":"1994-07-26","v":313,"t":"—"}]},
 "mark":{"type":"text","align":"left","baseline":"middle","fontSize":12.5,"color":"#333333"},
 "encoding":{"x":{"field":"d","type":"temporal","axis":null},"y":{"field":"v","type":"quantitative","axis":null},"text":{"field":"t"}}},
{"data":{"values":[{"d":"1994-05-30","t":"0,20,30,60,120,180,360,8)"}]},"mark":{"type":"text","align":"left","baseline":"middle","fontSize":11,"color":"#333333"},
 "encoding":{"x":{"field":"d","type":"temporal","axis":null},"y":{"datum":6334,"type":"quantitative","axis":null},"text":{"field":"t"}}},
{"data":{"name":"top"},"mark":{"type":"text","align":"left","baseline":"middle","fontSize":12.5},
 "encoding":{"x":{"field":"d","type":"temporal","axis":null},"y":{"datum":6334,"type":"quantitative","axis":null},"text":{"field":"t"},
  "color":{"field":"k","type":"nominal","legend":null,"scale":{"domain":["m1","m2","m3","m4","m5","m6","m7","m8","b0","vol","a1","a2","a3"],"range":["#30309a","#f08040","#a0a0a0","#c2163a","#2f9e3a","#3fd3ef","#e03be0","#a09a50","#222222","#23239c","#f07428","#8c8c8c","#c2163a"]}}}},
{"data":{"name":"bot"},"mark":{"type":"text","align":"left","baseline":"middle","fontSize":12},
 "encoding":{"x":{"field":"d","type":"temporal","axis":null},"y":{"datum":-168,"type":"quantitative","axis":null},"text":{"field":"t"},
  "color":{"field":"k","type":"nominal","legend":null}}},
{"data":{"values":[{"d":"2028-06-08","v":4012,"t":"3997.5"}]},"mark":{"type":"text","align":"left","baseline":"middle","fontSize":12,"color":"#e8202a"},
 "encoding":{"x":{"field":"d","type":"temporal","axis":null},"y":{"field":"v","type":"quantitative","axis":null},"text":{"field":"t"}}},
{"data":{"values":[{"d":"2028-10-23","v":67,"t":"日线"}]},"mark":{"type":"text","align":"left","baseline":"middle","font":"Noto Sans CJK SC","fontSize":12.5,"color":"#f0602c"},
 "encoding":{"x":{"field":"d","type":"temporal","axis":null},"y":{"field":"v","type":"quantitative","axis":null},"text":{"field":"t"}}},
{"data":{"values":[{}]},"mark":{"type":"rect","fill":"#f4f4f4"},
 "encoding":{"x":{"datum":{"year":2029,"month":7,"date":19},"type":"temporal","axis":null},"x2":{"datum":{"year":2031,"month":6,"date":1}},"y":{"datum":6700,"type":"quantitative","axis":null},"y2":{"datum":-700}}},
{"data":{"values":[{}]},"mark":{"type":"rect","fill":"#f4f4f4"},
 "encoding":{"x":{"datum":{"year":1993,"month":1,"date":1},"type":"temporal","axis":null},"x2":{"datum":{"year":2031,"month":6,"date":1}},"y":{"datum":-316,"type":"quantitative","axis":null},"y2":{"datum":-700}}}
],
"resolve":{"axis":{"x":"independent","y":"independent"}}
}
